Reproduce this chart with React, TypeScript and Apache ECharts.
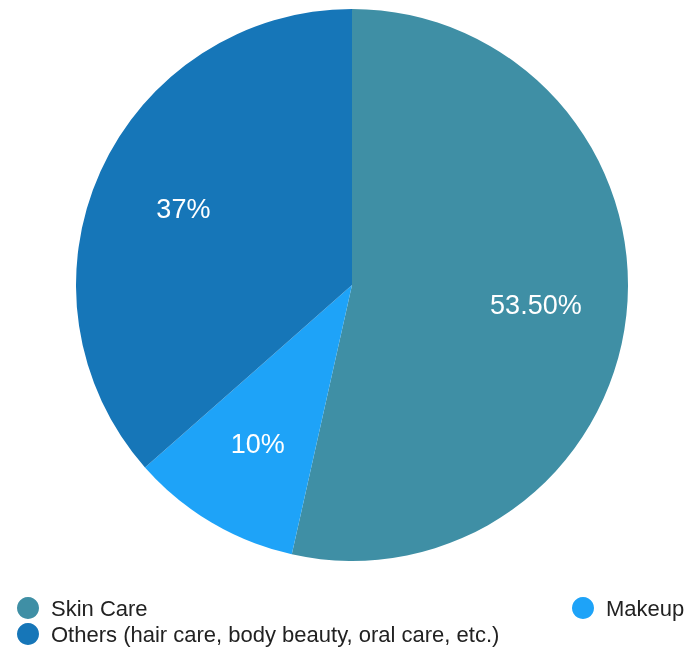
import React, { useEffect, useRef } from "react";
import * as echarts from "echarts";

const categories = ["Skin Care", "Makeup", "Others (hair care, body beauty, oral care, etc.)"];
const values = [53.5, 10, 36.5];
const labelTexts = ["53.50%", "10%", "37%"];
const colors = ["#3F8FA5", "#1EA3F8", "#1676B8"];

export default function App() {
  const ref = useRef<HTMLDivElement>(null);
  useEffect(() => {
    document.body.style.margin = "0";
    const chart = echarts.init(ref.current!, null, { renderer: "svg" });
    const data = categories.map((name, i) => ({ name, value: values[i], itemStyle: { color: colors[i] } }));
    const font = "'Liberation Sans', Arial, Helvetica, sans-serif";
    const legendText = { fontSize: 22, color: "#222", fontFamily: font, padding: [0, 0, 0, 7], lineHeight: 22 };
    chart.setOption({
      animation: false,
      legend: [
        {
          data: [categories[0], categories[2]],
          orient: "vertical",
          left: 12,
          top: 592,
          height: 100,
          itemGap: 4,
          icon: "circle",
          itemWidth: 22,
          itemHeight: 22,
          selectedMode: false,
          textStyle: legendText,
        },
        {
          data: [categories[1]],
          orient: "vertical",
          left: 567,
          top: 592,
          height: 100,
          icon: "circle",
          itemWidth: 22,
          itemHeight: 22,
          selectedMode: false,
          textStyle: legendText,
        },
      ],
      series: [
        {
          type: "pie",
          center: [352, 285],
          radius: [0, 276],
          startAngle: 90,
          clockwise: true,
          data,
          label: { show: false },
          labelLine: { show: false },
          emphasis: { disabled: true },
          silent: true,
        },
        {
          type: "pie",
          center: [352, 285],
          radius: [88, 276],
          startAngle: 90,
          clockwise: true,
          data: categories.map((name, i) => ({ name: name + " ", value: values[i], itemStyle: { color: "rgba(0,0,0,0)" } })),
          label: {
            show: true,
            position: "inside",
            formatter: (p: any) => labelTexts[p.dataIndex],
            color: "#ffffff",
            fontSize: 27,
            fontFamily: font,
          },
          labelLine: { show: false },
          emphasis: { disabled: true },
          silent: true,
        },
      ],
    });
    return () => chart.dispose();
  }, []);
  return <div ref={ref} style={{ position: "fixed", left: 0, top: 0, width: 688, height: 650 }} />;
}
